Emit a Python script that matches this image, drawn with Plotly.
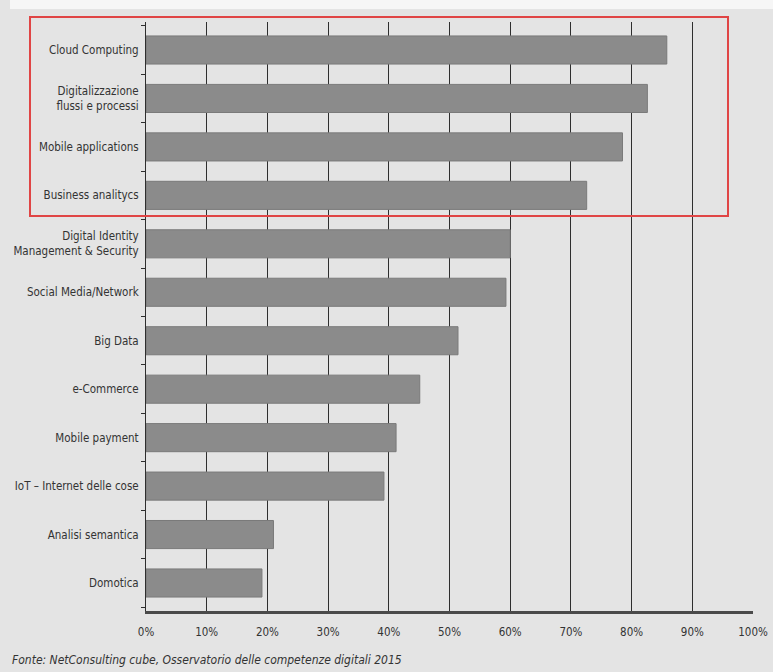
import plotly.graph_objects as go

categories = [
    "Cloud Computing",
    "Digitalizzazione<br>flussi e processi",
    "Mobile applications",
    "Business analitycs",
    "Digital Identity<br>Management & Security",
    "Social Media/Network",
    "Big Data",
    "e-Commerce",
    "Mobile payment",
    "IoT \u2013 Internet delle cose",
    "Analisi semantica",
    "Domotica",
]
values = [85.8, 82.6, 78.5, 72.6, 60.0, 59.3, 51.4, 45.1, 41.2, 39.2, 21.0, 19.1]
x_ticks = [0, 10, 20, 30, 40, 50, 60, 70, 80, 90, 100]
x_tick_labels = [f"{v}%" for v in x_ticks]
source_text = "Fonte: NetConsulting cube, Osservatorio delle competenze digitali 2015"

FONT = "Liberation Sans Narrow, DejaVu Sans Condensed, Roboto Condensed, Arial Narrow, sans-serif"

W, H = 773, 672
L, R, T, B = 146, 20, 22, 61
pw, ph = W - L - R, H - T - B

def px_x(p):
    return (p - L) / pw

def px_y(p):
    return (H - B - p) / ph

fig = go.Figure()
fig.add_trace(go.Bar(
    x=values,
    y=categories,
    orientation="h",
    width=0.58,
    marker=dict(color="#8b8b8b", line=dict(color="#7a7a7a", width=1)),
    hoverinfo="x+y",
))

n = len(categories)
pad = 0.578
fig.update_layout(
    width=W, height=H,
    margin=dict(l=L, r=R, t=T, b=B, autoexpand=False),
    paper_bgcolor="#e4e4e4",
    plot_bgcolor="#e4e4e4",
    showlegend=False,
    font=dict(family=FONT, size=11, color="#333333"),
    xaxis=dict(
        range=[0, 100],
        tickvals=x_ticks,
        ticktext=x_tick_labels,
        showgrid=True,
        gridcolor="#2e2e2e",
        gridwidth=1,
        showline=True,
        linecolor="#4a4a4a",
        linewidth=3,
        ticks="",
        zeroline=False,
        automargin=False,
        tickfont=dict(family=FONT, size=11.5, color="#333333"),
        ticklabelstandoff=8,
        fixedrange=True,
    ),
    yaxis=dict(
        categoryorder="array",
        categoryarray=list(reversed(categories)),
        range=[-pad, n - 1 + pad],
        showgrid=False,
        showline=True,
        linecolor="#2e2e2e",
        linewidth=1,
        ticks="outside",
        tickson="boundaries",
        ticklen=4,
        tickcolor="#2e2e2e",
        tickwidth=1,
        zeroline=False,
        automargin=False,
        ticklabelstandoff=4,
        tickfont=dict(family=FONT, size=11.5, color="#333333"),
        fixedrange=True,
    ),
    shapes=[
        dict(type="rect", xref="paper", yref="paper",
             x0=px_x(10), x1=px_x(W), y0=px_y(9), y1=px_y(0),
             fillcolor="#f6f6f6", line=dict(width=0), layer="below"),
        dict(type="rect", xref="paper", yref="paper",
             x0=px_x(30), x1=px_x(728), y0=px_y(216), y1=px_y(17),
             fillcolor="rgba(0,0,0,0)", line=dict(color="#e04545", width=2), layer="above"),
    ],
    annotations=[
        dict(text=source_text, xref="paper", yref="paper",
             x=px_x(10), y=px_y(660), xanchor="left", yanchor="middle",
             showarrow=False,
             font=dict(family=FONT, size=12, color="#333333", style="italic")),
    ],
)

fig.write_html("out.html")
